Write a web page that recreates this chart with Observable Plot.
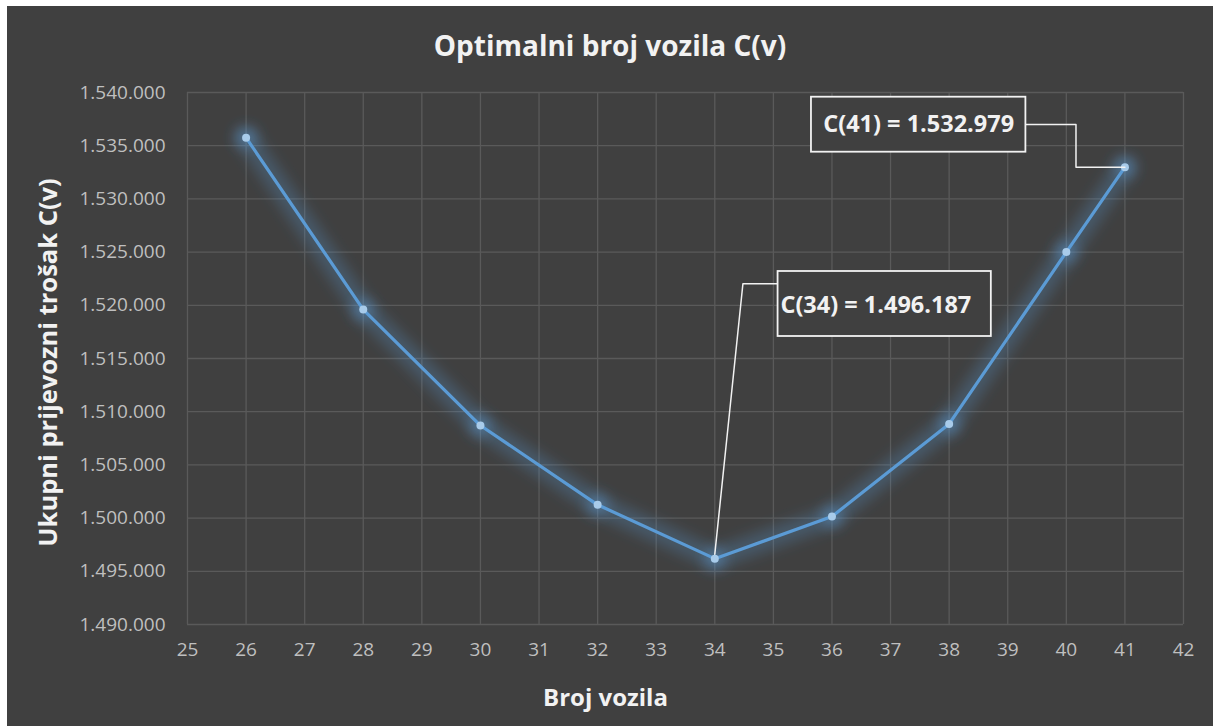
<!DOCTYPE html>
<html>
<head>
<meta charset="utf-8">
<script src="https://cdn.jsdelivr.net/npm/d3@7"></script>
<script src="https://cdn.jsdelivr.net/npm/@observablehq/plot@0.6"></script>
<style>
  html, body { margin: 0; padding: 0; background: #ffffff; }
  #wrap { position: absolute; left: 7px; top: 6px; width: 1206px; height: 720px; background: #404040; font-family: "Open Sans", sans-serif; }
  #title { height: 72px; line-height: 78px; text-align: center; color: #f2f2f2; font-weight: bold; font-size: 28px; overflow: visible; }
  svg { display: block; overflow: visible; }
</style>
</head>
<body>
<div id="wrap"><div id="title">Optimalni broj vozila C(v)</div></div>
<script>
// Data
const vehicles = [26, 28, 30, 32, 34, 36, 38, 40, 41];
const costs = [1535750, 1519600, 1508700, 1501250, 1496187, 1500150, 1508850, 1525000, 1532979];
const xTicks = [25, 26, 27, 28, 29, 30, 31, 32, 33, 34, 35, 36, 37, 38, 39, 40, 41, 42];
const yTicks = [1490000, 1495000, 1500000, 1505000, 1510000, 1515000, 1520000, 1525000, 1530000, 1535000, 1540000];
const annoLabel41 = "C(41) = 1.532.979";
const annoLabel34 = "C(34) = 1.496.187";
// annotation boxes in data units: [x1, x2, y1, y2]
const annoBoxes = [[35.65, 39.31, 1534389, 1539558], [35.08, 38.72, 1517068, 1523177]];
const anno41Pos = [37.48, 1536992];
const anno34Pos = [35.12, 1519981];
const leader41 = [[39.31, 1536992], [40.165, 1536992], [40.165, 1532979], [41, 1532979]];
const leader34 = [[35.08, 1522021], [34.48, 1522021], [34, 1496600]];

const data = vehicles.map((v, i) => ({x: v, y: costs[i]}));
const loc = d3.formatLocale({decimal: ",", thousands: ".", grouping: [3], currency: ["", ""]});
const fmt = loc.format(",d");

const chart = Plot.plot({
  width: 1206,
  height: 648,
  marginTop: 14,
  marginLeft: 180,
  marginRight: 30,
  marginBottom: 102,
  style: {background: "transparent", color: "#bfbfbf", fontFamily: "Open Sans, sans-serif", fontSize: "19px", overflow: "visible"},
  x: {domain: [25, 42]},
  y: {domain: [1490000, 1540000]},
  marks: [
    Plot.gridX(xTicks, {stroke: "#5a5a5a", strokeOpacity: 1, strokeWidth: 1.3}),
    Plot.gridY(yTicks, {stroke: "#5a5a5a", strokeOpacity: 1, strokeWidth: 1.3}),
    Plot.axisX(xTicks, {tickSize: 0, tickPadding: 18, label: null, fill: "#bfbfbf", fontSize: 19}),
    Plot.axisY(yTicks, {tickSize: 0, tickPadding: 22, tickFormat: fmt, label: null, fill: "#bfbfbf", fontSize: 19}),
    Plot.line(data, {x: "x", y: "y", stroke: "#5b9bd5", strokeWidth: 20, strokeOpacity: 0.28, className: "glow"}),
    Plot.dot(data, {x: "x", y: "y", r: 10, fill: "#5b9bd5", fillOpacity: 0.5, className: "glow"}),
    Plot.line(data, {x: "x", y: "y", stroke: "#5b9bd5", strokeWidth: 3.2}),
    Plot.dot(data, {x: "x", y: "y", r: 4, fill: "#a8cbea"}),
    Plot.line(leader41, {x: d => d[0], y: d => d[1], stroke: "#f2f2f2", strokeWidth: 1.5, curve: "linear"}),
    Plot.line(leader34, {x: d => d[0], y: d => d[1], stroke: "#f2f2f2", strokeWidth: 1.5, curve: "linear"}),
    Plot.rect(annoBoxes, {x1: d => d[0], x2: d => d[1], y1: d => d[2], y2: d => d[3], fill: "#404040", stroke: "#f2f2f2", strokeWidth: 1.8}),
    Plot.text([annoLabel41], {x: anno41Pos[0], y: anno41Pos[1], text: d => d, textAnchor: "middle", fill: "#f2f2f2", fontWeight: "bold", fontSize: 23.5, lineAnchor: "middle"}),
    Plot.text([annoLabel34], {x: anno34Pos[0], y: anno34Pos[1], text: d => d, textAnchor: "start", fill: "#f2f2f2", fontWeight: "bold", fontSize: 23.5, lineAnchor: "middle"}),
    Plot.text(["Broj vozila"], {frameAnchor: "bottom", dx: -80, dy: 74, lineAnchor: "middle", fill: "#f2f2f2", fontWeight: "bold", fontSize: 24}),
    Plot.text(["Ukupni prijevozni trošak C(v)"], {frameAnchor: "left", dx: -139, dy: 4, rotate: -90, lineAnchor: "middle", textAnchor: "middle", fill: "#f2f2f2", fontWeight: "bold", fontSize: 25.5})
  ]
});

// glow filter
const svg = d3.select(chart);
const defs = svg.insert("defs", ":first-child");
defs.append("filter").attr("id", "blurGlow").attr("x", "-20%").attr("y", "-20%").attr("width", "140%").attr("height", "140%")
  .append("feGaussianBlur").attr("stdDeviation", 7);
svg.selectAll(".glow").attr("filter", "url(#blurGlow)");

document.getElementById("wrap").appendChild(chart);
</script>
</body>
</html>
